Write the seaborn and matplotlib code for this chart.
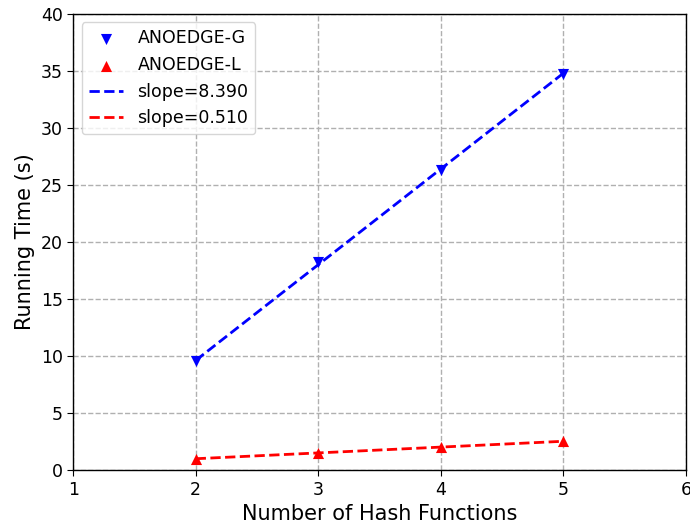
import numpy as np
import pandas as pd
import matplotlib
matplotlib.use("Agg")
import matplotlib.pyplot as plt
import seaborn as sns

# Running time vs number of hash functions
hash_funcs = [2, 3, 4, 5]
time_global = [9.55, 18.2, 26.3, 34.75]
time_local = [1.0, 1.5, 2.02, 2.53]
slope_global = 8.390
slope_local = 0.510

sns.set_style("ticks")
plt.rcParams["font.family"] = ["DejaVu Sans"]
plt.rcParams.update({"text.color": "black", "axes.labelcolor": "black",
                     "xtick.color": "black", "ytick.color": "black"})

fig, ax = plt.subplots(figsize=(6.9, 5.3), dpi=100)
fig.subplots_adjust(left=0.106, right=0.994, top=0.974, bottom=0.113)

df_g = pd.DataFrame({"k": hash_funcs, "t": time_global})
df_l = pd.DataFrame({"k": hash_funcs, "t": time_local})

sns.scatterplot(data=df_g, x="k", y="t", marker="v", color="blue", s=64,
                edgecolor="blue", linewidth=0, label="ANOEDGE-G", ax=ax, zorder=3)
sns.scatterplot(data=df_l, x="k", y="t", marker="^", color="red", s=64,
                edgecolor="red", linewidth=0, label="ANOEDGE-L", ax=ax, zorder=3)

# fitted lines through the mean point with the reported slopes
x = np.array(hash_funcs, dtype=float)
fit_g = np.mean(time_global) + slope_global * (x - x.mean())
fit_l = np.mean(time_local) + slope_local * (x - x.mean())
ax.plot(x, fit_g, "--", color="blue", lw=2, label=f"slope={slope_global:.3f}", zorder=2)
ax.plot(x, fit_l, "--", color="red", lw=2, label=f"slope={slope_local:.3f}", zorder=2)

ax.set_xlim(1, 6)
ax.set_ylim(0, 40)
ax.set_xticks(range(1, 7))
ax.set_yticks(range(0, 41, 5))
ax.grid(True, linestyle="--", color="#b0b0b0", linewidth=1)
ax.set_axisbelow(True)
ax.tick_params(labelsize=12.5, direction="out", length=4, color="black",
               labelcolor="black")
for s in ax.spines.values():
    s.set_color("black")
    s.set_linewidth(1)
ax.set_xlabel("Number of Hash Functions", fontsize=15, color="black")
ax.set_ylabel("Running Time (s)", fontsize=15, color="black")
leg = ax.legend(loc="upper left", fontsize=12.5, framealpha=0.8)
for t in leg.get_texts():
    t.set_color("black")

fig.savefig("out.png", dpi=100)
